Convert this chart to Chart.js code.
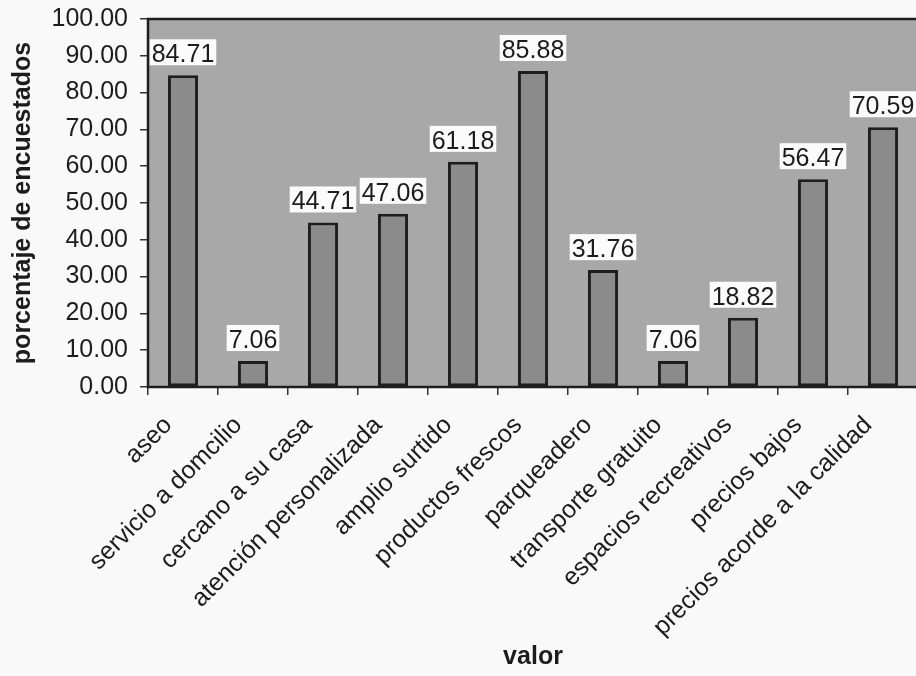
<!DOCTYPE html>
<html>
<head>
<meta charset="utf-8">
<script src="https://cdn.jsdelivr.net/npm/chart.js@4"></script>
<style>
html,body{margin:0;padding:0;background:#f9f9f9;overflow:hidden;width:916px;height:676px;}
#wrap{position:absolute;left:0;top:0;width:922px;height:676px;}
</style>
</head>
<body>
<div id="wrap"><canvas id="c"></canvas></div>
<script>
const categories = ["aseo","servicio a domcilio","cercano a su casa","atención personalizada","amplio surtido","productos frescos","parqueadero","transporte gratuito","espacios recreativos","precios bajos","precios acorde a la calidad"];
const values = [84.71,7.06,44.71,47.06,61.18,85.88,31.76,7.06,18.82,56.47,70.59];
const yTitle = "porcentaje de encuestados";
const xTitle = "valor";
const yMin = 0, yMax = 100, yStep = 10;

const FONT = "'Liberation Sans', Arial, sans-serif";

const decor = {
  id: 'decor',
  beforeDraw(chart) {
    const {ctx, chartArea: a} = chart;
    ctx.save();
    ctx.fillStyle = '#a8a8a8';
    ctx.fillRect(a.left, a.top, a.right - a.left, a.bottom - a.top);
    ctx.restore();
  },
  afterDatasetsDraw(chart) {
    const {ctx, chartArea: a} = chart;
    ctx.save();
    ctx.strokeStyle = '#1e1e1e';
    ctx.lineWidth = 2.5;
    ctx.strokeRect(a.left, a.top, a.right - a.left, a.bottom - a.top);
    const meta = chart.getDatasetMeta(0);
    ctx.font = '25px ' + FONT;
    ctx.textAlign = 'center';
    ctx.textBaseline = 'alphabetic';
    meta.data.forEach((bar, i) => {
      const txt = values[i].toFixed(2);
      const w = ctx.measureText(txt).width;
      const base = bar.y - 13;
      ctx.fillStyle = '#fbfbfb';
      ctx.fillRect(bar.x - w / 2 - 2, base - 23, w + 4, 26);
      ctx.fillStyle = '#1c1c1c';
      ctx.fillText(txt, bar.x, base);
    });
    ctx.restore();
  }
};

new Chart(document.getElementById('c'), {
  type: 'bar',
  data: {
    labels: categories,
    datasets: [{
      data: values,
      backgroundColor: '#8b8b8b',
      borderColor: '#1e1e1e',
      borderWidth: 3,
      borderSkipped: false,
      barPercentage: 0.43,
      categoryPercentage: 1
    }]
  },
  options: {
    responsive: true,
    maintainAspectRatio: false,
    animation: false,
    layout: { padding: { top: 19, right: 4, left: 0, bottom: 0 } },
    plugins: { legend: { display: false }, tooltip: { enabled: false } },
    scales: {
      x: {
        grid: { display: true, drawOnChartArea: false, drawTicks: true, tickLength: 8, color: '#333', lineWidth: 1.5 },
        border: { display: false },
        ticks: { autoSkip: false, minRotation: 45, maxRotation: 45, color: '#1c1c1c', font: { family: FONT, size: 25 }, padding: 1,
                 callback(v, i) { return categories[i] + '   '; } },
        title: { display: true, text: xTitle, color: '#1c1c1c', font: { family: FONT, size: 25, weight: 'bold' }, padding: { top: 0, bottom: 4 } },
        afterFit(scale) { scale.height = 289; scale.paddingLeft = 0; scale.paddingRight = 0; }
      },
      y: {
        min: yMin, max: yMax,
        grid: { display: true, drawOnChartArea: false, drawTicks: true, tickLength: 8, color: '#333', lineWidth: 1.5 },
        border: { display: false },
        ticks: { stepSize: yStep, color: '#1c1c1c', font: { family: FONT, size: 25 }, padding: 12, callback: v => Number(v).toFixed(2) },
        title: { display: true, text: yTitle, color: '#1c1c1c', font: { family: FONT, size: 25, weight: 'bold' }, padding: { top: 8, bottom: 0 } },
        afterFit(scale) { scale.width = 148; scale.paddingTop = 0; scale.paddingBottom = 0; }
      }
    }
  },
  plugins: [decor]
});
</script>
</body>
</html>
